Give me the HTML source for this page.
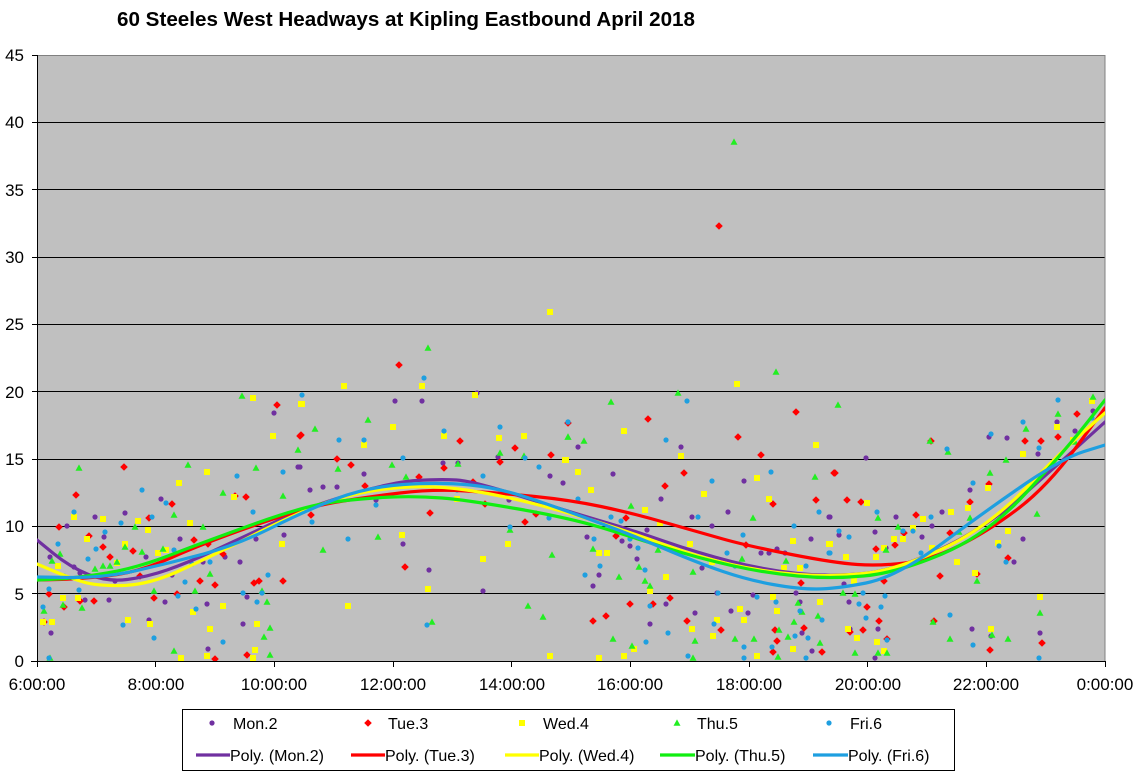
<!DOCTYPE html>
<html><head><meta charset="utf-8"><style>
html,body{margin:0;padding:0;background:#fff;}
svg{display:block;font-family:"Liberation Sans",Arial,sans-serif;}
</style></head><body>
<svg width="1137" height="780" viewBox="0 0 1137 780" xmlns="http://www.w3.org/2000/svg">
<defs>
<clipPath id="pc"><rect x="37" y="55" width="1068" height="606"/></clipPath>
<circle id="pm" r="2.6" fill="#7030A0"/>
<path id="rd" d="M0,-3.8L3.8,0L0,3.8L-3.8,0Z" fill="#FF0000"/>
<rect id="ys" x="-3" y="-3" width="6" height="6" fill="#FFFF00"/>
<path id="gt" d="M0,-3.6L3.5,2.8L-3.5,2.8Z" fill="#22EE22"/>
<circle id="bc" r="2.6" fill="#1E9FE0"/>
</defs>
<rect width="1137" height="780" fill="#fff"/>
<text x="117" y="26" font-size="20" font-weight="bold" textLength="578" lengthAdjust="spacingAndGlyphs">60 Steeles West Headways at Kipling Eastbound April 2018</text>
<rect x="37" y="55" width="1068" height="606" fill="#C0C0C0"/>
<g stroke="#000" stroke-width="1">
<line x1="37" x2="1105" y1="122.5" y2="122.5"/>
<line x1="37" x2="1105" y1="189.5" y2="189.5"/>
<line x1="37" x2="1105" y1="257.5" y2="257.5"/>
<line x1="37" x2="1105" y1="324.5" y2="324.5"/>
<line x1="37" x2="1105" y1="391.5" y2="391.5"/>
<line x1="37" x2="1105" y1="459.5" y2="459.5"/>
<line x1="37" x2="1105" y1="526.5" y2="526.5"/>
<line x1="37" x2="1105" y1="593.5" y2="593.5"/>
</g>
<line x1="37" x2="1105" y1="55.5" y2="55.5" stroke="#808080"/>
<line x1="1105" x2="1105" y1="55" y2="661" stroke="#808080"/>
<g stroke="#000" stroke-width="1">
<line x1="37.5" x2="37.5" y1="55" y2="667"/>
<line x1="31" x2="1105" y1="661.5" y2="661.5"/>
<line x1="32" x2="37" y1="55.5" y2="55.5"/>
<line x1="32" x2="37" y1="122.5" y2="122.5"/>
<line x1="32" x2="37" y1="189.5" y2="189.5"/>
<line x1="32" x2="37" y1="257.5" y2="257.5"/>
<line x1="32" x2="37" y1="324.5" y2="324.5"/>
<line x1="32" x2="37" y1="391.5" y2="391.5"/>
<line x1="32" x2="37" y1="459.5" y2="459.5"/>
<line x1="32" x2="37" y1="526.5" y2="526.5"/>
<line x1="32" x2="37" y1="593.5" y2="593.5"/>
<line x1="155.5" x2="155.5" y1="661" y2="667"/>
<line x1="274.5" x2="274.5" y1="661" y2="667"/>
<line x1="393.5" x2="393.5" y1="661" y2="667"/>
<line x1="511.5" x2="511.5" y1="661" y2="667"/>
<line x1="630.5" x2="630.5" y1="661" y2="667"/>
<line x1="749.5" x2="749.5" y1="661" y2="667"/>
<line x1="867.5" x2="867.5" y1="661" y2="667"/>
<line x1="986.5" x2="986.5" y1="661" y2="667"/>
<line x1="1105.5" x2="1105.5" y1="661" y2="667"/>
</g>
<g font-size="17" text-anchor="end" fill="#000">
<text x="24" y="61">45</text>
<text x="24" y="128">40</text>
<text x="24" y="196">35</text>
<text x="24" y="263">30</text>
<text x="24" y="330">25</text>
<text x="24" y="398">20</text>
<text x="24" y="465">15</text>
<text x="24" y="532">10</text>
<text x="24" y="600">5</text>
<text x="24" y="667">0</text>
</g>
<g font-size="17" text-anchor="middle" fill="#000">
<text x="37" y="690">6:00:00</text>
<text x="156" y="690">8:00:00</text>
<text x="274" y="690">10:00:00</text>
<text x="393" y="690">12:00:00</text>
<text x="512" y="690">14:00:00</text>
<text x="630" y="690">16:00:00</text>
<text x="749" y="690">18:00:00</text>
<text x="868" y="690">20:00:00</text>
<text x="986" y="690">22:00:00</text>
<text x="1105" y="690">0:00:00</text>
</g>
<g clip-path="url(#pc)">
<!-- Mon -->
<g>
<use href="#pm" x="274" y="413"/><use href="#pm" x="298" y="467"/><use href="#pm" x="161" y="499"/><use href="#pm" x="125" y="513"/><use href="#pm" x="95" y="517"/><use href="#pm" x="67" y="526"/><use href="#pm" x="104" y="537"/><use href="#pm" x="180" y="539"/><use href="#pm" x="256" y="539"/><use href="#pm" x="284" y="535"/><use href="#pm" x="74" y="567"/><use href="#pm" x="50" y="557"/><use href="#pm" x="146" y="557"/><use href="#pm" x="203" y="562"/><use href="#pm" x="225" y="557"/><use href="#pm" x="240" y="562"/><use href="#pm" x="80" y="573"/><use href="#pm" x="172" y="575"/><use href="#pm" x="115" y="581"/><use href="#pm" x="247" y="597"/><use href="#pm" x="85" y="600"/><use href="#pm" x="109" y="600"/><use href="#pm" x="165" y="602"/><use href="#pm" x="207" y="604"/><use href="#pm" x="149" y="620"/><use href="#pm" x="243" y="624"/><use href="#pm" x="51" y="633"/><use href="#pm" x="208" y="649"/>
<use href="#pm" x="395" y="401"/><use href="#pm" x="422" y="401"/><use href="#pm" x="477" y="393"/><use href="#pm" x="300" y="467"/><use href="#pm" x="443" y="463"/><use href="#pm" x="458" y="463"/><use href="#pm" x="498" y="457"/><use href="#pm" x="364" y="474"/><use href="#pm" x="310" y="490"/><use href="#pm" x="323" y="487"/><use href="#pm" x="337" y="487"/><use href="#pm" x="550" y="476"/><use href="#pm" x="563" y="483"/><use href="#pm" x="509" y="500"/><use href="#pm" x="376" y="500"/><use href="#pm" x="403" y="544"/><use href="#pm" x="429" y="570"/><use href="#pm" x="483" y="591"/>
<use href="#pm" x="578" y="447"/><use href="#pm" x="681" y="447"/><use href="#pm" x="613" y="474"/><use href="#pm" x="744" y="481"/><use href="#pm" x="661" y="499"/><use href="#pm" x="728" y="512"/><use href="#pm" x="692" y="517"/><use href="#pm" x="829" y="517"/><use href="#pm" x="712" y="526"/><use href="#pm" x="647" y="530"/><use href="#pm" x="811" y="539"/><use href="#pm" x="587" y="537"/><use href="#pm" x="622" y="541"/><use href="#pm" x="630" y="546"/><use href="#pm" x="761" y="553"/><use href="#pm" x="769" y="553"/><use href="#pm" x="785" y="553"/><use href="#pm" x="777" y="549"/><use href="#pm" x="637" y="559"/><use href="#pm" x="702" y="568"/><use href="#pm" x="599" y="575"/><use href="#pm" x="593" y="586"/><use href="#pm" x="717" y="593"/><use href="#pm" x="753" y="595"/><use href="#pm" x="796" y="593"/><use href="#pm" x="800" y="602"/><use href="#pm" x="666" y="604"/><use href="#pm" x="695" y="613"/><use href="#pm" x="731" y="611"/><use href="#pm" x="748" y="613"/><use href="#pm" x="650" y="624"/><use href="#pm" x="802" y="633"/><use href="#pm" x="812" y="651"/>
<use href="#pm" x="866" y="458"/><use href="#pm" x="1093" y="411"/><use href="#pm" x="1075" y="431"/><use href="#pm" x="1057" y="422"/><use href="#pm" x="1038" y="454"/><use href="#pm" x="1007" y="438"/><use href="#pm" x="989" y="437"/><use href="#pm" x="970" y="490"/><use href="#pm" x="942" y="512"/><use href="#pm" x="896" y="517"/><use href="#pm" x="932" y="526"/><use href="#pm" x="875" y="532"/><use href="#pm" x="922" y="537"/><use href="#pm" x="886" y="548"/><use href="#pm" x="839" y="535"/><use href="#pm" x="1023" y="539"/><use href="#pm" x="1014" y="562"/><use href="#pm" x="830" y="517"/><use href="#pm" x="844" y="584"/><use href="#pm" x="849" y="602"/><use href="#pm" x="878" y="629"/><use href="#pm" x="972" y="629"/><use href="#pm" x="991" y="636"/><use href="#pm" x="1040" y="633"/><use href="#pm" x="875" y="658"/><use href="#pm" x="850" y="629"/>
</g>
<!-- Tue -->
<g>
<use href="#rd" x="124" y="467"/><use href="#rd" x="76" y="495"/><use href="#rd" x="172" y="504"/><use href="#rd" x="149" y="518"/><use href="#rd" x="59" y="527"/><use href="#rd" x="89" y="536"/><use href="#rd" x="103" y="547"/><use href="#rd" x="110" y="557"/><use href="#rd" x="133" y="551"/><use href="#rd" x="194" y="540"/><use href="#rd" x="208" y="544"/><use href="#rd" x="223" y="554"/><use href="#rd" x="277" y="405"/><use href="#rd" x="300" y="436"/><use href="#rd" x="246" y="497"/><use href="#rd" x="235" y="496"/><use href="#rd" x="140" y="576"/><use href="#rd" x="200" y="581"/><use href="#rd" x="215" y="585"/><use href="#rd" x="254" y="583"/><use href="#rd" x="259" y="581"/><use href="#rd" x="283" y="581"/><use href="#rd" x="49" y="594"/><use href="#rd" x="154" y="598"/><use href="#rd" x="80" y="601"/><use href="#rd" x="94" y="601"/><use href="#rd" x="64" y="607"/><use href="#rd" x="44" y="622"/><use href="#rd" x="215" y="659"/><use href="#rd" x="247" y="655"/><use href="#rd" x="177" y="594"/>
<use href="#rd" x="399" y="365"/><use href="#rd" x="460" y="441"/><use href="#rd" x="515" y="448"/><use href="#rd" x="551" y="455"/><use href="#rd" x="301" y="435"/><use href="#rd" x="337" y="459"/><use href="#rd" x="351" y="465"/><use href="#rd" x="444" y="468"/><use href="#rd" x="500" y="462"/><use href="#rd" x="419" y="477"/><use href="#rd" x="473" y="482"/><use href="#rd" x="430" y="513"/><use href="#rd" x="485" y="504"/><use href="#rd" x="525" y="522"/><use href="#rd" x="536" y="514"/><use href="#rd" x="311" y="515"/><use href="#rd" x="405" y="567"/><use href="#rd" x="365" y="486"/>
<use href="#rd" x="719" y="226"/><use href="#rd" x="796" y="412"/><use href="#rd" x="648" y="419"/><use href="#rd" x="738" y="437"/><use href="#rd" x="761" y="455"/><use href="#rd" x="568" y="423"/><use href="#rd" x="684" y="473"/><use href="#rd" x="834" y="473"/><use href="#rd" x="665" y="486"/><use href="#rd" x="773" y="504"/><use href="#rd" x="816" y="500"/><use href="#rd" x="626" y="518"/><use href="#rd" x="616" y="536"/><use href="#rd" x="746" y="545"/><use href="#rd" x="801" y="583"/><use href="#rd" x="630" y="604"/><use href="#rd" x="653" y="604"/><use href="#rd" x="670" y="598"/><use href="#rd" x="593" y="621"/><use href="#rd" x="606" y="616"/><use href="#rd" x="687" y="621"/><use href="#rd" x="721" y="630"/><use href="#rd" x="775" y="630"/><use href="#rd" x="804" y="628"/><use href="#rd" x="777" y="641"/><use href="#rd" x="773" y="652"/><use href="#rd" x="822" y="652"/>
<use href="#rd" x="1077" y="414"/><use href="#rd" x="1025" y="441"/><use href="#rd" x="1041" y="441"/><use href="#rd" x="1058" y="437"/><use href="#rd" x="931" y="441"/><use href="#rd" x="835" y="473"/><use href="#rd" x="847" y="500"/><use href="#rd" x="861" y="502"/><use href="#rd" x="989" y="484"/><use href="#rd" x="970" y="502"/><use href="#rd" x="916" y="515"/><use href="#rd" x="1001" y="513"/><use href="#rd" x="950" y="533"/><use href="#rd" x="904" y="533"/><use href="#rd" x="895" y="545"/><use href="#rd" x="876" y="549"/><use href="#rd" x="1008" y="558"/><use href="#rd" x="884" y="581"/><use href="#rd" x="940" y="576"/><use href="#rd" x="977" y="574"/><use href="#rd" x="867" y="607"/><use href="#rd" x="879" y="621"/><use href="#rd" x="934" y="621"/><use href="#rd" x="863" y="630"/><use href="#rd" x="850" y="632"/><use href="#rd" x="887" y="639"/><use href="#rd" x="1042" y="643"/><use href="#rd" x="990" y="650"/>
</g>
<!-- Wed -->
<g>
<use href="#ys" x="253" y="398"/><use href="#ys" x="301" y="404"/><use href="#ys" x="273" y="436"/><use href="#ys" x="207" y="472"/><use href="#ys" x="179" y="483"/><use href="#ys" x="234" y="497"/><use href="#ys" x="74" y="517"/><use href="#ys" x="103" y="519"/><use href="#ys" x="138" y="521"/><use href="#ys" x="190" y="523"/><use href="#ys" x="148" y="530"/><use href="#ys" x="87" y="539"/><use href="#ys" x="125" y="544"/><use href="#ys" x="158" y="553"/><use href="#ys" x="166" y="550"/><use href="#ys" x="282" y="544"/><use href="#ys" x="117" y="563"/><use href="#ys" x="58" y="566"/><use href="#ys" x="63" y="598"/><use href="#ys" x="78" y="598"/><use href="#ys" x="223" y="606"/><use href="#ys" x="193" y="612"/><use href="#ys" x="128" y="620"/><use href="#ys" x="150" y="624"/><use href="#ys" x="210" y="629"/><use href="#ys" x="257" y="624"/><use href="#ys" x="43" y="622"/><use href="#ys" x="52" y="622"/><use href="#ys" x="181" y="658"/><use href="#ys" x="207" y="656"/><use href="#ys" x="255" y="650"/><use href="#ys" x="253" y="658"/>
<use href="#ys" x="550" y="312"/><use href="#ys" x="344" y="386"/><use href="#ys" x="422" y="386"/><use href="#ys" x="475" y="395"/><use href="#ys" x="302" y="404"/><use href="#ys" x="393" y="427"/><use href="#ys" x="444" y="436"/><use href="#ys" x="499" y="438"/><use href="#ys" x="524" y="436"/><use href="#ys" x="364" y="445"/><use href="#ys" x="565" y="460"/><use href="#ys" x="457" y="499"/><use href="#ys" x="402" y="535"/><use href="#ys" x="508" y="544"/><use href="#ys" x="483" y="559"/><use href="#ys" x="428" y="589"/><use href="#ys" x="348" y="606"/><use href="#ys" x="550" y="656"/>
<use href="#ys" x="737" y="384"/><use href="#ys" x="624" y="431"/><use href="#ys" x="816" y="445"/><use href="#ys" x="681" y="456"/><use href="#ys" x="566" y="460"/><use href="#ys" x="578" y="472"/><use href="#ys" x="757" y="478"/><use href="#ys" x="591" y="490"/><use href="#ys" x="704" y="494"/><use href="#ys" x="769" y="499"/><use href="#ys" x="645" y="510"/><use href="#ys" x="660" y="523"/><use href="#ys" x="793" y="541"/><use href="#ys" x="829" y="544"/><use href="#ys" x="690" y="544"/><use href="#ys" x="599" y="553"/><use href="#ys" x="607" y="553"/><use href="#ys" x="712" y="562"/><use href="#ys" x="784" y="568"/><use href="#ys" x="800" y="568"/><use href="#ys" x="666" y="577"/><use href="#ys" x="650" y="591"/><use href="#ys" x="773" y="597"/><use href="#ys" x="820" y="602"/><use href="#ys" x="740" y="609"/><use href="#ys" x="777" y="611"/><use href="#ys" x="717" y="620"/><use href="#ys" x="744" y="620"/><use href="#ys" x="692" y="629"/><use href="#ys" x="713" y="636"/><use href="#ys" x="634" y="649"/><use href="#ys" x="793" y="649"/><use href="#ys" x="599" y="658"/><use href="#ys" x="624" y="656"/><use href="#ys" x="757" y="656"/>
<use href="#ys" x="1092" y="401"/><use href="#ys" x="1057" y="427"/><use href="#ys" x="1073" y="440"/><use href="#ys" x="1023" y="454"/><use href="#ys" x="988" y="488"/><use href="#ys" x="968" y="508"/><use href="#ys" x="951" y="512"/><use href="#ys" x="923" y="519"/><use href="#ys" x="867" y="503"/><use href="#ys" x="913" y="528"/><use href="#ys" x="903" y="539"/><use href="#ys" x="894" y="539"/><use href="#ys" x="884" y="548"/><use href="#ys" x="876" y="557"/><use href="#ys" x="932" y="548"/><use href="#ys" x="957" y="562"/><use href="#ys" x="1008" y="531"/><use href="#ys" x="998" y="543"/><use href="#ys" x="846" y="557"/><use href="#ys" x="830" y="544"/><use href="#ys" x="854" y="581"/><use href="#ys" x="975" y="573"/><use href="#ys" x="1040" y="597"/><use href="#ys" x="848" y="629"/><use href="#ys" x="857" y="638"/><use href="#ys" x="877" y="642"/><use href="#ys" x="884" y="651"/><use href="#ys" x="991" y="629"/>
</g>
<!-- Thu -->
<g>
<use href="#gt" x="242" y="396"/><use href="#gt" x="79" y="468"/><use href="#gt" x="188" y="465"/><use href="#gt" x="256" y="468"/><use href="#gt" x="223" y="493"/><use href="#gt" x="283" y="496"/><use href="#gt" x="174" y="515"/><use href="#gt" x="203" y="527"/><use href="#gt" x="135" y="527"/><use href="#gt" x="60" y="554"/><use href="#gt" x="125" y="547"/><use href="#gt" x="142" y="552"/><use href="#gt" x="163" y="549"/><use href="#gt" x="103" y="566"/><use href="#gt" x="110" y="566"/><use href="#gt" x="95" y="569"/><use href="#gt" x="117" y="562"/><use href="#gt" x="52" y="561"/><use href="#gt" x="154" y="591"/><use href="#gt" x="195" y="591"/><use href="#gt" x="210" y="574"/><use href="#gt" x="262" y="591"/><use href="#gt" x="267" y="602"/><use href="#gt" x="63" y="605"/><use href="#gt" x="82" y="608"/><use href="#gt" x="44" y="611"/><use href="#gt" x="270" y="628"/><use href="#gt" x="264" y="637"/><use href="#gt" x="174" y="651"/><use href="#gt" x="270" y="655"/><use href="#gt" x="50" y="658"/><use href="#gt" x="298" y="450"/>
<use href="#gt" x="428" y="348"/><use href="#gt" x="368" y="420"/><use href="#gt" x="315" y="429"/><use href="#gt" x="338" y="469"/><use href="#gt" x="392" y="465"/><use href="#gt" x="406" y="477"/><use href="#gt" x="500" y="453"/><use href="#gt" x="524" y="456"/><use href="#gt" x="568" y="437"/><use href="#gt" x="378" y="537"/><use href="#gt" x="323" y="550"/><use href="#gt" x="510" y="530"/><use href="#gt" x="552" y="555"/><use href="#gt" x="528" y="606"/><use href="#gt" x="543" y="617"/><use href="#gt" x="432" y="622"/><use href="#gt" x="458" y="464"/>
<use href="#gt" x="734" y="142"/><use href="#gt" x="776" y="372"/><use href="#gt" x="678" y="393"/><use href="#gt" x="611" y="402"/><use href="#gt" x="568" y="437"/><use href="#gt" x="584" y="441"/><use href="#gt" x="815" y="477"/><use href="#gt" x="631" y="506"/><use href="#gt" x="753" y="518"/><use href="#gt" x="593" y="549"/><use href="#gt" x="658" y="550"/><use href="#gt" x="742" y="559"/><use href="#gt" x="786" y="561"/><use href="#gt" x="693" y="572"/><use href="#gt" x="639" y="567"/><use href="#gt" x="619" y="577"/><use href="#gt" x="645" y="581"/><use href="#gt" x="650" y="586"/><use href="#gt" x="798" y="603"/><use href="#gt" x="802" y="612"/><use href="#gt" x="794" y="622"/><use href="#gt" x="818" y="616"/><use href="#gt" x="613" y="639"/><use href="#gt" x="735" y="639"/><use href="#gt" x="754" y="639"/><use href="#gt" x="779" y="630"/><use href="#gt" x="788" y="637"/><use href="#gt" x="695" y="641"/><use href="#gt" x="632" y="646"/><use href="#gt" x="820" y="643"/><use href="#gt" x="693" y="658"/><use href="#gt" x="778" y="657"/>
<use href="#gt" x="838" y="405"/><use href="#gt" x="1093" y="397"/><use href="#gt" x="1058" y="414"/><use href="#gt" x="1026" y="429"/><use href="#gt" x="1075" y="442"/><use href="#gt" x="930" y="441"/><use href="#gt" x="948" y="452"/><use href="#gt" x="1006" y="460"/><use href="#gt" x="990" y="473"/><use href="#gt" x="878" y="518"/><use href="#gt" x="898" y="527"/><use href="#gt" x="959" y="532"/><use href="#gt" x="970" y="518"/><use href="#gt" x="1037" y="514"/><use href="#gt" x="886" y="550"/><use href="#gt" x="977" y="581"/><use href="#gt" x="843" y="593"/><use href="#gt" x="855" y="594"/><use href="#gt" x="1040" y="613"/><use href="#gt" x="933" y="622"/><use href="#gt" x="950" y="639"/><use href="#gt" x="992" y="635"/><use href="#gt" x="1008" y="639"/><use href="#gt" x="855" y="653"/><use href="#gt" x="878" y="653"/><use href="#gt" x="887" y="653"/>
</g>
<!-- Fri -->
<g>
<use href="#bc" x="302" y="395"/><use href="#bc" x="283" y="472"/><use href="#bc" x="237" y="476"/><use href="#bc" x="142" y="490"/><use href="#bc" x="166" y="503"/><use href="#bc" x="74" y="512"/><use href="#bc" x="253" y="512"/><use href="#bc" x="152" y="517"/><use href="#bc" x="121" y="523"/><use href="#bc" x="105" y="532"/><use href="#bc" x="58" y="544"/><use href="#bc" x="88" y="559"/><use href="#bc" x="96" y="549"/><use href="#bc" x="174" y="550"/><use href="#bc" x="192" y="564"/><use href="#bc" x="210" y="562"/><use href="#bc" x="64" y="576"/><use href="#bc" x="268" y="575"/><use href="#bc" x="185" y="582"/><use href="#bc" x="79" y="590"/><use href="#bc" x="49" y="589"/><use href="#bc" x="243" y="593"/><use href="#bc" x="178" y="596"/><use href="#bc" x="262" y="593"/><use href="#bc" x="257" y="602"/><use href="#bc" x="43" y="607"/><use href="#bc" x="196" y="609"/><use href="#bc" x="123" y="625"/><use href="#bc" x="154" y="638"/><use href="#bc" x="223" y="642"/><use href="#bc" x="49" y="658"/>
<use href="#bc" x="424" y="378"/><use href="#bc" x="339" y="440"/><use href="#bc" x="364" y="440"/><use href="#bc" x="444" y="431"/><use href="#bc" x="500" y="427"/><use href="#bc" x="568" y="422"/><use href="#bc" x="403" y="458"/><use href="#bc" x="525" y="458"/><use href="#bc" x="539" y="467"/><use href="#bc" x="483" y="476"/><use href="#bc" x="457" y="490"/><use href="#bc" x="376" y="505"/><use href="#bc" x="312" y="522"/><use href="#bc" x="348" y="539"/><use href="#bc" x="510" y="527"/><use href="#bc" x="549" y="518"/><use href="#bc" x="427" y="625"/>
<use href="#bc" x="687" y="401"/><use href="#bc" x="568" y="422"/><use href="#bc" x="666" y="440"/><use href="#bc" x="771" y="472"/><use href="#bc" x="712" y="481"/><use href="#bc" x="578" y="499"/><use href="#bc" x="819" y="512"/><use href="#bc" x="611" y="517"/><use href="#bc" x="698" y="517"/><use href="#bc" x="621" y="521"/><use href="#bc" x="794" y="526"/><use href="#bc" x="743" y="535"/><use href="#bc" x="594" y="539"/><use href="#bc" x="630" y="539"/><use href="#bc" x="638" y="548"/><use href="#bc" x="829" y="553"/><use href="#bc" x="727" y="553"/><use href="#bc" x="600" y="566"/><use href="#bc" x="585" y="575"/><use href="#bc" x="645" y="570"/><use href="#bc" x="735" y="566"/><use href="#bc" x="718" y="593"/><use href="#bc" x="757" y="597"/><use href="#bc" x="776" y="602"/><use href="#bc" x="806" y="566"/><use href="#bc" x="650" y="606"/><use href="#bc" x="800" y="611"/><use href="#bc" x="822" y="620"/><use href="#bc" x="714" y="624"/><use href="#bc" x="668" y="633"/><use href="#bc" x="795" y="636"/><use href="#bc" x="808" y="638"/><use href="#bc" x="646" y="642"/><use href="#bc" x="744" y="647"/><use href="#bc" x="772" y="647"/><use href="#bc" x="688" y="656"/><use href="#bc" x="744" y="658"/><use href="#bc" x="806" y="658"/>
<use href="#bc" x="1058" y="400"/><use href="#bc" x="1092" y="418"/><use href="#bc" x="1023" y="422"/><use href="#bc" x="1039" y="448"/><use href="#bc" x="991" y="434"/><use href="#bc" x="947" y="449"/><use href="#bc" x="973" y="483"/><use href="#bc" x="877" y="512"/><use href="#bc" x="931" y="517"/><use href="#bc" x="913" y="531"/><use href="#bc" x="903" y="531"/><use href="#bc" x="839" y="531"/><use href="#bc" x="849" y="537"/><use href="#bc" x="830" y="553"/><use href="#bc" x="921" y="553"/><use href="#bc" x="999" y="546"/><use href="#bc" x="1006" y="562"/><use href="#bc" x="885" y="596"/><use href="#bc" x="863" y="593"/><use href="#bc" x="859" y="604"/><use href="#bc" x="881" y="607"/><use href="#bc" x="866" y="618"/><use href="#bc" x="950" y="615"/><use href="#bc" x="887" y="640"/><use href="#bc" x="973" y="645"/><use href="#bc" x="1039" y="658"/>
</g>
<!-- Trendlines -->
<g fill="none" stroke-width="3.2" stroke-linejoin="round" stroke-linecap="round">
<path stroke="#7030A0" d="M37,540 L53.5,553.5 Q70,567 88.5,574.5 Q107,582 127,579.5 Q147,577 167,570 Q187,563 212,551.5 Q237,540 272,523.5 Q307,507 350,494.5 Q393,482 416.5,480.5 Q440,479 456.5,480 Q473,481 521.5,496.5 Q570,512 601,521 Q632,530 665,541.5 Q698,553 731.5,561.5 Q765,570 797.5,573.5 Q830,577 863.5,573.5 Q897,570 942,548.5 Q987,527 1025,493.5 Q1063,460 1084,441 L1105,422"/>
<path stroke="#FF0000" d="M37,580 L57,579.5 Q77,579 107,576 Q137,573 170.5,558 Q204,543 255.5,525 Q307,507 337,502 Q367,497 400,493 Q433,489 466.5,491 Q500,493 535,496.5 Q570,500 601,506.5 Q632,513 665,522.5 Q698,532 723,539 Q748,546 791.5,554.5 Q835,563 857.5,564.5 Q880,566 905,563 Q930,560 958.5,546 Q987,532 1017,509.5 Q1047,487 1076,447.5 L1105,408"/>
<path stroke="#FFFF00" d="M37,564 L53.5,571 Q70,578 83.5,582 Q97,586 122,585.5 Q147,585 175.5,572.5 Q204,560 255.5,534 Q307,508 337,499 Q367,490 400,487.5 Q433,485 466.5,490 Q500,495 535,504 Q570,513 601,523 Q632,533 665,545 Q698,557 731.5,564.5 Q765,572 797.5,574.5 Q830,577 863.5,573.5 Q897,570 942,549 Q987,528 1025,489 Q1063,450 1084,431.5 L1105,413"/>
<path stroke="#11EE11" d="M37,580 L57,579 Q77,578 107,573 Q137,568 170.5,555 Q204,542 255.5,523.5 Q307,505 337,501.5 Q367,498 392,497 Q417,496 442,498 Q467,500 518.5,509 Q570,518 601,527.5 Q632,537 665,547.5 Q698,558 731.5,565.5 Q765,573 797.5,576 Q830,579 863.5,576 Q897,573 942,554 Q987,535 1025,494 Q1063,453 1084,426.5 L1105,400"/>
<path stroke="#1E9FE0" d="M37,577 L70.5,577.5 Q104,578 137,570.5 Q170,563 203.5,554 Q237,545 272,527.5 Q307,510 337,498.5 Q367,487 403.5,484.5 Q440,482 470,485 Q500,488 535,500 Q570,512 601,523.5 Q632,535 665,549 Q698,563 723,571.5 Q748,580 773,584.5 Q798,589 816.5,589 Q835,589 866,583 Q897,577 942,543.5 Q987,510 1025,484 Q1063,458 1084,451.5 L1105,445"/>
</g>
</g>
<!-- Legend -->
<rect x="182.5" y="709.5" width="772" height="61" fill="#fff" stroke="#000" stroke-width="1"/>
<use href="#pm" x="212" y="723"/>
<use href="#rd" x="368" y="723"/>
<use href="#ys" x="522" y="723"/>
<use href="#gt" x="677" y="723"/>
<use href="#bc" x="829" y="723"/>
<g font-size="16" fill="#000">
<text x="233" y="729">Mon.2</text>
<text x="388" y="729">Tue.3</text>
<text x="543" y="729">Wed.4</text>
<text x="697" y="729">Thu.5</text>
<text x="850" y="729">Fri.6</text>
<text x="230" y="761">Poly. (Mon.2)</text>
<text x="385" y="761">Poly. (Tue.3)</text>
<text x="539" y="761">Poly. (Wed.4)</text>
<text x="695" y="761">Poly. (Thu.5)</text>
<text x="848" y="761">Poly. (Fri.6)</text>
</g>
<g stroke-width="3.2">
<line x1="196" x2="230" y1="755" y2="755" stroke="#7030A0"/>
<line x1="351" x2="385" y1="755" y2="755" stroke="#FF0000"/>
<line x1="505" x2="539" y1="755" y2="755" stroke="#FFFF00"/>
<line x1="660" x2="695" y1="755" y2="755" stroke="#11EE11"/>
<line x1="813" x2="848" y1="755" y2="755" stroke="#1E9FE0"/>
</g>
</svg>
</body></html>
